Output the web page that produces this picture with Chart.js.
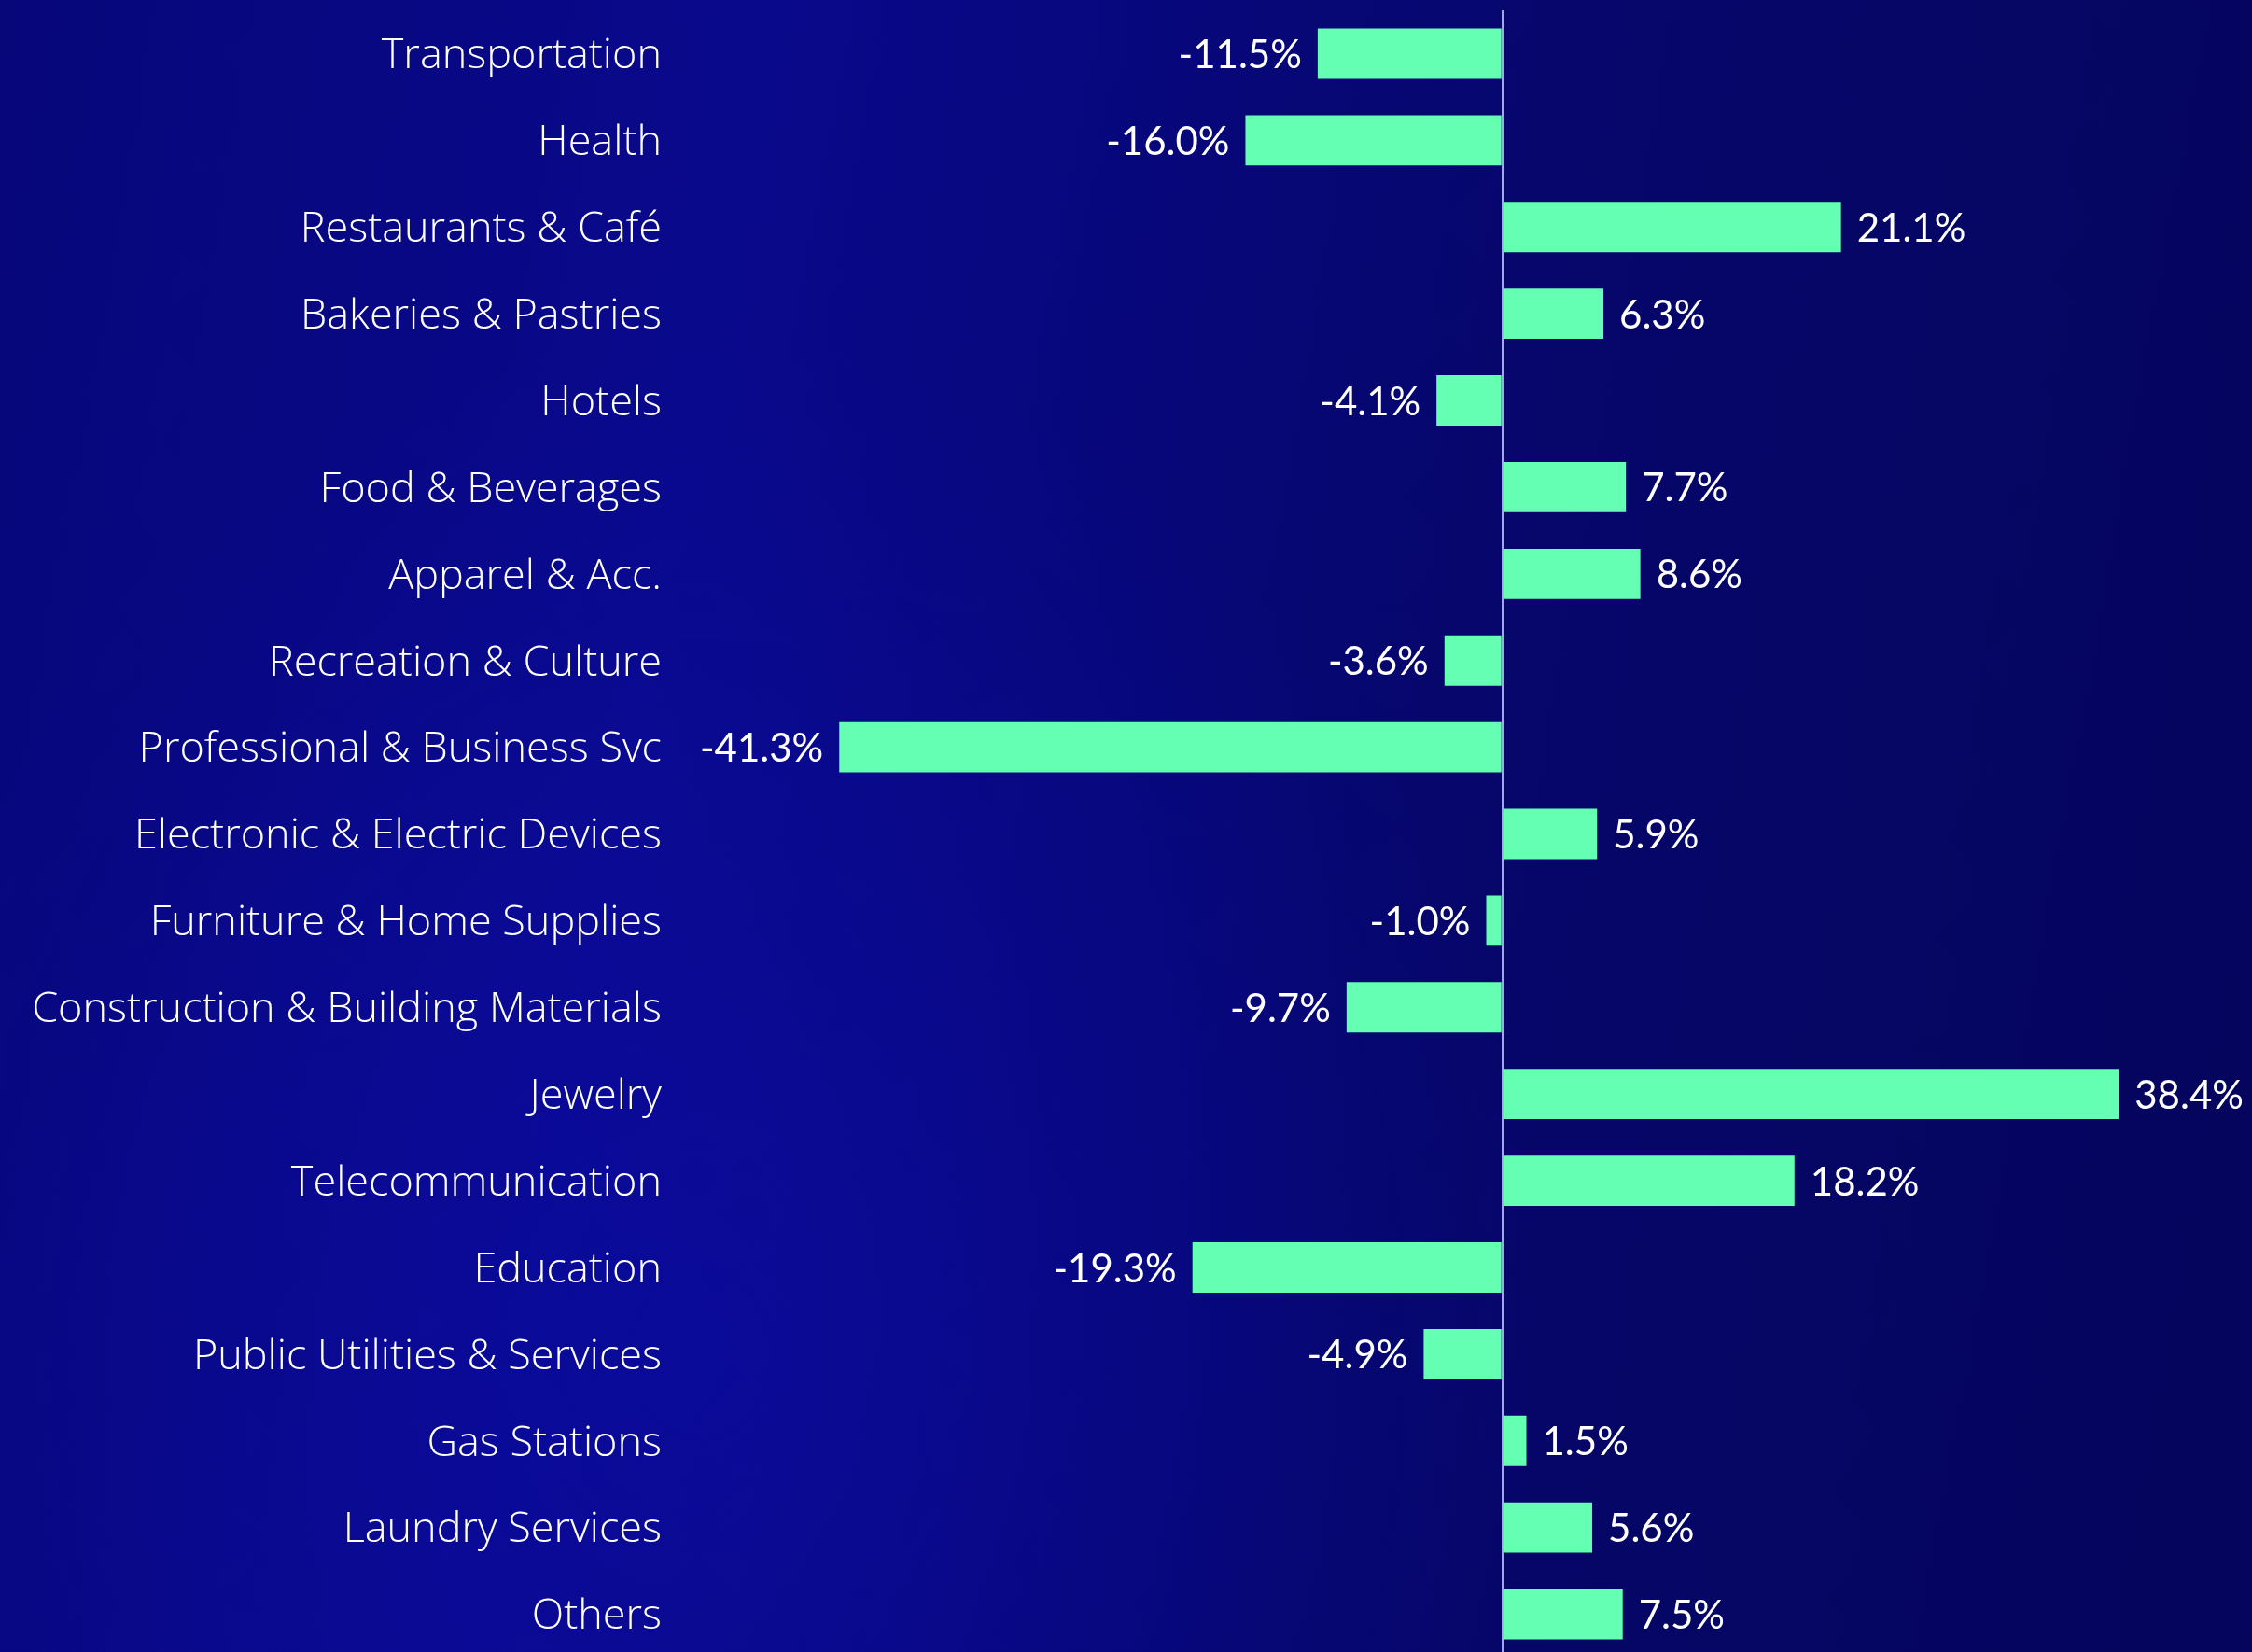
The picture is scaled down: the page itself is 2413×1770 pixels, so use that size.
<!DOCTYPE html>
<html>
<head>
<meta charset="utf-8">
<script src="https://cdn.jsdelivr.net/npm/chart.js@4.4.1/dist/chart.umd.min.js"></script>
<style>
  html, body { margin: 0; padding: 0; overflow: hidden; width: 2413px; height: 1770px; }
  body {
    background:
      radial-gradient(ellipse 900px 1100px at 750px 1450px, rgba(12,12,170,0.55), rgba(12,12,170,0) 100%),
      linear-gradient(100deg, #07077a 0%, #09098c 30%, #06066c 62%, #05055c 100%);
  }
  #wrap { position: absolute; left: 0; top: 0; width: 2413px; height: 1778px; }
</style>
</head>
<body>
<div id="wrap"><canvas id="c" width="2413" height="1778"></canvas></div>
<script>
const categories = [
  "Transportation", "Health", "Restaurants & Café", "Bakeries & Pastries", "Hotels",
  "Food & Beverages", "Apparel & Acc.", "Recreation & Culture", "Professional & Business Svc",
  "Electronic & Electric Devices", "Furniture & Home Supplies", "Construction & Building Materials",
  "Jewelry", "Telecommunication", "Education", "Public Utilities & Services", "Gas Stations",
  "Laundry Services", "Others"
];
const growth = [
  -11.5, -16.0, 21.1, 6.3, -4.1,
  7.7, 8.6, -3.6, -41.3,
  5.9, -1.0, -9.7,
  38.4, 18.2, -19.3, -4.9, 1.5,
  5.6, 7.5
];
const barColor = "#64ffb2";
const textColor = "#ffffff";
const axisColor = "#a8a8d8";
const labelFont = "'Open Sans', sans-serif";
const valueFont = "Lato, 'Open Sans', sans-serif";

const valueLabels = {
  id: "valueLabels",
  afterDatasetsDraw(chart) {
    const ctx = chart.ctx;
    const meta = chart.getDatasetMeta(0);
    ctx.save();
    ctx.font = "400 42px " + valueFont;
    ctx.fillStyle = textColor;
    ctx.textBaseline = "middle";
    meta.data.forEach((bar, i) => {
      const v = growth[i];
      const txt = v.toFixed(1) + "%";
      if (v < 0) {
        ctx.textAlign = "right";
        ctx.fillText(txt, bar.x - 17, bar.y + 2);
      } else {
        ctx.textAlign = "left";
        ctx.fillText(txt, bar.x + 17, bar.y + 2);
      }
    });
    ctx.restore();
  }
};

new Chart(document.getElementById("c"), {
  type: "bar",
  data: {
    labels: categories,
    datasets: [{
      data: growth,
      backgroundColor: barColor,
      borderWidth: 0,
      categoryPercentage: 1.0,
      barPercentage: 0.58
    }]
  },
  options: {
    indexAxis: "y",
    responsive: false,
    animation: false,
    devicePixelRatio: 1,
    layout: { padding: { top: 11, bottom: 2, left: 0, right: 12 } },
    plugins: { legend: { display: false }, tooltip: { enabled: false } },
    scales: {
      x: {
        min: -48, max: 46,
        ticks: { display: false, stepSize: 2 },
        border: { display: false },
        grid: {
          drawTicks: false,
          lineWidth: 2,
          color: (c) => (c.tick && c.tick.value === 0 ? axisColor : "rgba(0,0,0,0)")
        },
        afterFit(scale) { scale.height = 0; scale.paddingLeft = 0; scale.paddingRight = 0; }
      },
      y: {
        border: { display: false },
        grid: { display: false, drawTicks: false },
        ticks: {
          color: textColor,
          padding: 75,
          labelOffset: 3,
          font: { family: labelFont, size: 45, weight: "300" }
        },
        afterFit(scale) { scale.width = 784; scale.paddingTop = 0; scale.paddingBottom = 0; }
      }
    }
  },
  plugins: [valueLabels]
});
</script>
</body>
</html>
